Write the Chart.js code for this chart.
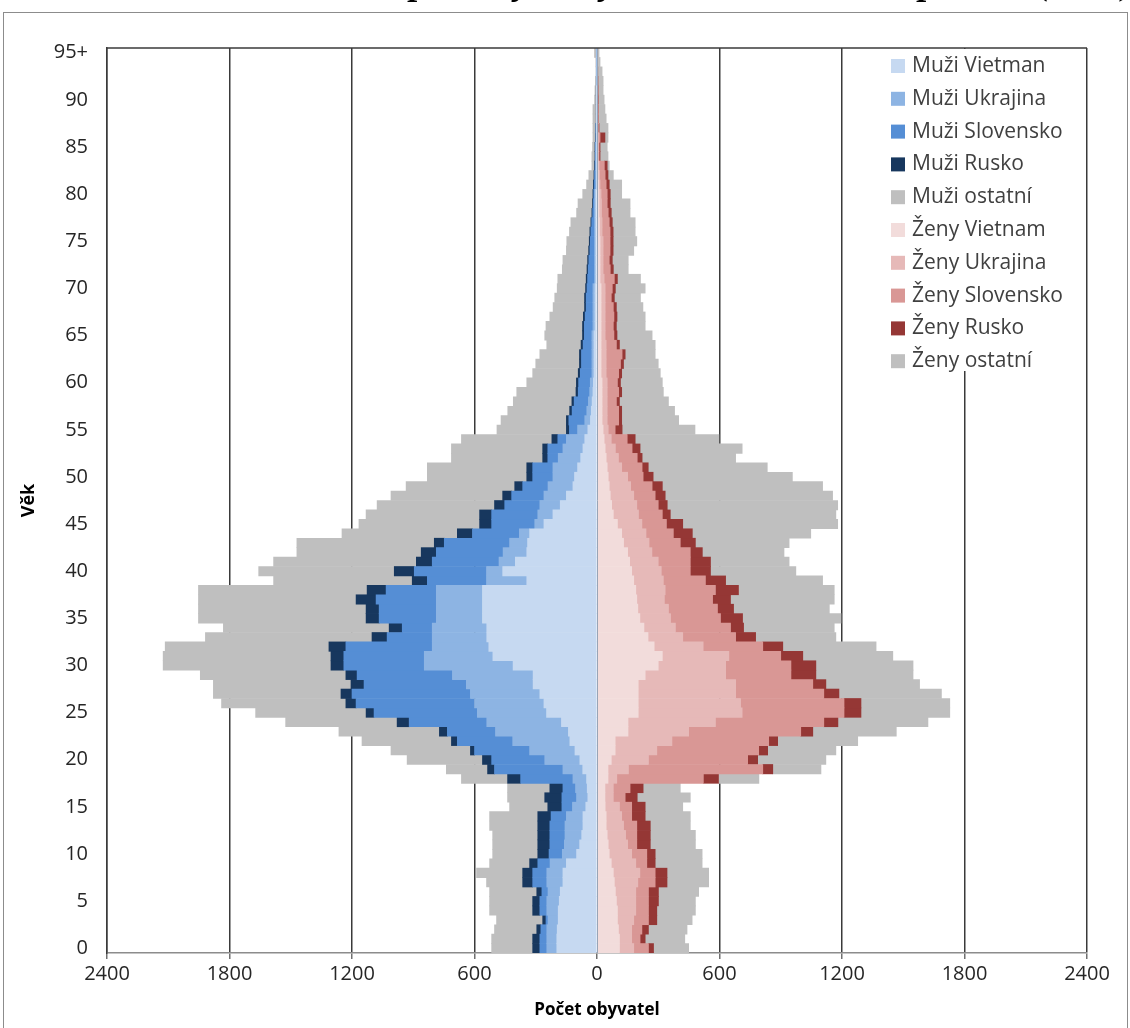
<!DOCTYPE html>
<html>
<head>
<meta charset="utf-8">
<style>
  html, body { margin: 0; padding: 0; background: #fff; }
  #obal { position: relative; width: 1130px; height: 1028px; overflow: hidden; }
  #nadpis {
    position: absolute; right: -4px; top: -36px; z-index: 2;
    font: italic bold 36px/36px "Liberation Serif", serif; color: #000;
    white-space: nowrap;
  }
  canvas { position: absolute; left: 0; top: 0; }
</style>
</head>
<body>
<div id="obal">
  <canvas id="pyramida" width="1130" height="1028"></canvas>
  <div id="nadpis">Věková struktura cizinců podle vybraných států občanství a pohlaví (M, Ž)</div>
</div>
<script src="https://cdn.jsdelivr.net/npm/chart.js"></script>
<script>
// vekove skupiny 0 .. 95+
const vek = ['0','1','2','3','4','5','6','7','8','9',
  '10','11','12','13','14','15','16','17','18','19',
  '20','21','22','23','24','25','26','27','28','29',
  '30','31','32','33','34','35','36','37','38','39',
  '40','41','42','43','44','45','46','47','48','49',
  '50','51','52','53','54','55','56','57','58','59',
  '60','61','62','63','64','65','66','67','68','69',
  '70','71','72','73','74','75','76','77','78','79',
  '80','81','82','83','84','85','86','87','88','89',
  '90','91','92','93','94','95+'];

const osaX = [-2400, -1800, -1200, -600, 0, 600, 1200, 1800, 2400];

// muzi (pocet osob, kresli se doleva)
const muziVietnam = [197,197,195,190,190,185,180,167,167,150,
  100,85,75,69,69,55,45,48,51,70,
  84,108,133,140,174,247,260,280,313,313,
  411,510,530,540,540,561,561,561,561,344,
  462,400,344,340,330,260,216,180,150,118,
  110,95,80,69,60,45,32,28,24,20,
  18,15,15,15,15,15,10,10,10,10,
  10,6,6,6,6,6,6,6,6,6,
  6,3,3,3,3,3,2,2,1,1,
  1,1,0,0,0,0];
const muziUkrajina = [49,49,51,50,56,61,60,79,79,80,
  70,75,82,88,81,65,55,57,67,97,
  172,222,280,357,366,339,340,340,327,395,
  435,336,277,267,267,226,226,226,226,197,
  79,80,116,88,50,45,74,100,110,122,
  106,121,110,98,90,50,28,22,18,16,
  15,10,10,10,10,10,10,10,10,10,
  10,6,6,6,6,6,6,6,6,6,
  6,3,3,3,3,3,2,2,1,1,
  1,1,1,1,1,1];
const muziSlovensko = [34,34,29,10,34,34,30,69,69,60,
  65,71,74,74,75,52,72,62,256,335,
  260,270,271,236,380,506,580,580,501,467,
  394,394,423,221,147,280,280,295,246,290,
  354,327,327,320,230,211,226,172,158,124,
  99,99,51,74,42,40,78,72,70,56,
  57,57,51,51,43,37,42,38,33,33,
  29,34,31,28,23,21,18,14,9,6,
  4,8,6,3,2,2,1,1,1,1,
  1,1,1,1,1,1];
const muziRusko = [35,35,20,16,35,35,25,49,49,40,
  55,59,59,59,65,69,84,64,64,34,
  45,20,29,39,59,39,50,54,64,55,
  63,63,83,74,64,64,64,98,93,74,
  98,78,74,49,74,59,59,50,44,39,
  29,29,25,25,29,15,12,12,11,11,
  11,10,10,10,10,9,9,9,8,8,
  7,7,6,6,6,5,5,4,4,4,
  4,4,3,3,2,2,2,1,1,1,
  1,1,1,1,1,1];
const muziOstatni = [201,201,207,226,211,211,231,177,226,196,
  221,221,221,236,236,187,182,207,226,202,
  369,389,438,492,546,541,609,625,674,713,
  822,822,802,816,812,821,821,772,826,679,
  664,699,609,673,565,591,556,575,547,532,
  487,487,447,447,443,340,320,303,287,290,
  243,223,214,194,168,185,179,164,154,146,
  139,139,121,121,109,110,100,98,75,71,
  50,33,25,13,15,12,13,14,16,16,
  8,6,5,2,2,9];

// zeny (pocet osob, kresli se doprava)
const zenyVietnam = [110,110,105,100,100,95,90,85,80,70,
  60,55,50,45,45,40,39,39,54,54,
  70,89,89,152,152,202,202,202,202,236,
  300,320,280,250,230,210,200,195,190,180,
  170,160,150,130,121,100,80,72,65,60,
  55,50,45,40,35,30,25,25,25,25,
  25,20,20,20,20,20,20,20,20,20,
  20,15,15,15,15,15,12,12,10,10,
  10,8,6,5,3,3,3,2,2,2,
  1,1,1,1,0,0];
const zenyUkrajina = [70,60,65,80,90,95,100,115,130,120,
  110,95,90,85,76,70,41,41,43,100,
  182,204,278,297,428,509,501,477,477,394,
  330,326,240,170,154,150,150,135,144,145,
  145,140,119,125,119,120,123,123,115,105,
  95,71,60,50,35,25,25,25,25,25,
  25,25,25,25,25,20,20,20,20,20,
  20,20,15,15,15,15,13,13,12,12,
  10,7,6,5,3,3,3,2,2,2,
  2,2,1,1,1,1];
const zenySlovensko = [72,41,50,72,62,62,62,85,75,54,
  74,45,55,65,49,60,58,82,424,658,
  486,499,474,549,531,499,507,432,378,320,
  320,254,292,259,270,245,240,236,246,206,
  142,157,188,153,134,120,117,105,105,105,
  76,100,92,82,78,34,56,56,45,56,
  50,61,70,78,50,43,40,43,40,30,
  35,50,35,30,34,34,39,35,33,28,
  30,30,28,26,4,4,9,2,2,2,
  2,2,2,1,1,1];
const zenyRusko = [25,25,32,41,41,49,49,58,58,41,
  41,66,66,66,66,66,59,64,74,49,
  49,44,44,59,69,83,83,74,64,122,
  122,108,98,98,64,108,79,88,113,99,
  99,99,59,74,93,80,39,44,49,50,
  49,30,24,39,39,34,15,15,15,15,
  15,15,15,15,15,15,15,15,15,15,
  15,15,15,15,15,15,15,15,15,15,
  15,15,14,14,5,5,24,4,2,2,
  2,1,1,1,1,1];
const zenyOstatni = [172,194,189,173,189,181,197,204,204,230,
  230,221,221,196,221,184,260,182,198,236,
  334,334,392,409,441,435,435,502,459,476,
  476,441,457,393,444,482,469,508,469,475,
  418,385,400,459,580,759,811,835,820,785,
  682,583,458,500,410,357,279,259,240,204,
  205,189,170,147,175,172,141,138,130,128,
  146,113,73,78,101,116,108,112,92,97,
  56,61,26,10,39,35,15,44,37,31,
  28,24,25,21,12,7];

const barvy = {
  muziVietnam: '#c6d9f1', muziUkrajina: '#8db4e3', muziSlovensko: '#558ed5',
  muziRusko: '#17375e', muziOstatni: '#bfbfbf',
  zenyVietnam: '#f2dcdb', zenyUkrajina: '#e6b9b8', zenySlovensko: '#d99795',
  zenyRusko: '#953735', zenyOstatni: '#bfbfbf'
};

function sada(label, hodnoty, barva, doleva) {
  return {
    label: label,
    data: doleva ? hodnoty.map(v => -v) : hodnoty,
    backgroundColor: barva,
    borderWidth: 0,
    barPercentage: 1,
    categoryPercentage: 1,
    stack: 'pyramida'
  };
}

const datasets = [
  sada('Muži Vietman', muziVietnam, barvy.muziVietnam, true),
  sada('Muži Ukrajina', muziUkrajina, barvy.muziUkrajina, true),
  sada('Muži Slovensko', muziSlovensko, barvy.muziSlovensko, true),
  sada('Muži Rusko', muziRusko, barvy.muziRusko, true),
  sada('Muži ostatní', muziOstatni, barvy.muziOstatni, true),
  sada('Ženy Vietnam', zenyVietnam, barvy.zenyVietnam, false),
  sada('Ženy Ukrajina', zenyUkrajina, barvy.zenyUkrajina, false),
  sada('Ženy Slovensko', zenySlovensko, barvy.zenySlovensko, false),
  sada('Ženy Rusko', zenyRusko, barvy.zenyRusko, false),
  sada('Ženy ostatní', zenyOstatni, barvy.zenyOstatni, false)
];

// ramecek grafu a horni hrana plochy
const ramecek = {
  id: 'ramecek',
  beforeDraw(chart) {
    const c = chart.ctx;
    c.save();
    c.fillStyle = '#ffffff';
    c.fillRect(0, 0, chart.width, chart.height);
    c.strokeStyle = '#8c8c8c';
    c.lineWidth = 1;
    c.strokeRect(3.5, 12.5, 1124, 1040);
    c.restore();
  },
  afterDraw(chart) {
    const a = chart.chartArea, c = chart.ctx;
    c.save();
    c.strokeStyle = '#3a3a3a';
    c.lineWidth = 1.5;
    c.beginPath();
    c.moveTo(a.left, a.top);
    c.lineTo(a.right, a.top);
    c.stroke();
    c.restore();
  }
};

// svisla osa v nule nad sloupci
const nulovaOsa = {
  id: 'nulovaOsa',
  afterDatasetsDraw(chart) {
    const a = chart.chartArea, c = chart.ctx;
    const x = Math.round(chart.scales.x.getPixelForValue(0)) + 0.5;
    c.save();
    c.strokeStyle = '#98a4b6';
    c.lineWidth = 1;
    c.beginPath();
    c.moveTo(x, a.top);
    c.lineTo(x, a.bottom);
    c.stroke();
    c.restore();
  }
};

// legenda uvnitr plochy vpravo nahore, na bilem podkladu
const legenda = {
  id: 'legenda',
  afterDatasetsDraw(chart) {
    const a = chart.chartArea, c = chart.ctx;
    c.save();
    c.fillStyle = '#ffffff';
    c.fillRect(876, a.top + 1, a.right - 877, 322);
    c.font = '21px "Open Sans"';
    c.textBaseline = 'middle';
    c.textAlign = 'left';
    chart.data.datasets.forEach((ds, i) => {
      const y = 66 + i * 32.8;
      c.fillStyle = ds.backgroundColor;
      c.fillRect(891, y - 7, 14, 14);
      c.fillStyle = '#404040';
      c.fillText(ds.label, 912, y);
    });
    c.restore();
  }
};

const config = {
  type: 'bar',
  data: { labels: vek, datasets: datasets },
  options: {
    indexAxis: 'y',
    responsive: false,
    animation: false,
    devicePixelRatio: 1,
    layout: { padding: { top: 48, right: 43, left: 0, bottom: 0 } },
    plugins: {
      legend: { display: false },
      tooltip: { enabled: false },
      title: { display: false }
    },
    scales: {
      x: {
        stacked: true,
        min: -2400,
        max: 2400,
        afterBuildTicks: s => { s.ticks = osaX.map(v => ({ value: v })); },
        ticks: {
          callback: v => Math.abs(v),
          color: '#262626',
          font: { family: 'Open Sans', size: 20 },
          padding: 3,
          maxRotation: 0
        },
        grid: {
          color: ctx => (ctx.tick && ctx.tick.value === 0) ? 'rgba(0,0,0,0)' : '#3a3a3a',
          lineWidth: 1.5,
          tickLength: 6,
          tickColor: '#6f6f6f'
        },
        border: { color: '#8c8c8c', width: 1.5 },
        title: {
          display: true,
          text: 'Počet obyvatel',
          color: '#000',
          font: { family: 'Open Sans', size: 17, weight: 'bold' },
          padding: { top: 0, bottom: 8 }
        },
        afterFit: s => { s.height = 75; }
      },
      y: {
        stacked: true,
        reverse: true,
        grid: { display: false },
        border: { color: '#3a3a3a', width: 1.5 },
        ticks: {
          autoSkip: false,
          callback: (v, i) => (i % 5 === 0 ? vek[i] : ''),
          padding: 11,
          color: '#262626',
          font: { family: 'Open Sans', size: 20 }
        },
        title: {
          display: true,
          text: 'Věk',
          color: '#000',
          font: { family: 'Open Sans', size: 18, weight: 'bold' },
          padding: { top: 18, bottom: 0 }
        },
        afterFit: s => { s.width = 107; }
      }
    }
  },
  plugins: [ramecek, nulovaOsa, legenda]
};

new Chart(document.getElementById('pyramida'), config);
</script>
</body>
</html>
